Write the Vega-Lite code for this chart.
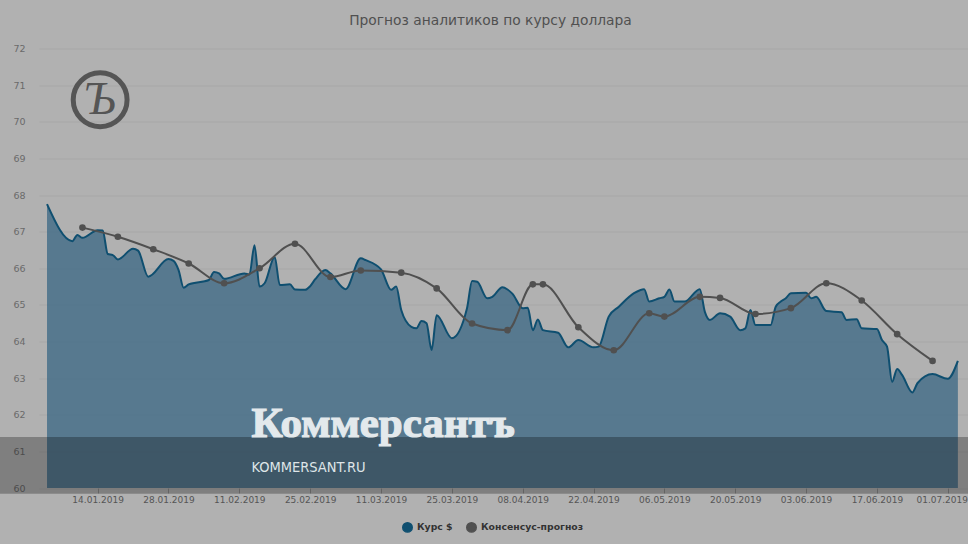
{"$schema":"https://vega.github.io/schema/vega-lite/v6.json","width":929,"height":439.5,"autosize":{"type":"none"},"padding":{"left":39,"top":48.5,"right":0,"bottom":56},"background":"#b1b1b1","title":{"text":"Прогноз аналитиков по курсу доллара","anchor":"middle","dx":-13,"offset":16,"font":"DejaVu Sans","fontSize":13.8,"fontWeight":"normal","color":"#505050"},"config":{"view":{"stroke":null}},
"datasets":{
"rate":[{"date":"2019-01-04","v":67.75},{"date":"2019-01-09","v":66.74},{"date":"2019-01-10","v":66.91},{"date":"2019-01-11","v":66.83},{"date":"2019-01-14","v":67.04},{"date":"2019-01-15","v":67.03},{"date":"2019-01-16","v":66.39},{"date":"2019-01-17","v":66.36},{"date":"2019-01-18","v":66.24},{"date":"2019-01-21","v":66.53},{"date":"2019-01-22","v":66.48},{"date":"2019-01-24","v":65.77},{"date":"2019-01-28","v":66.25},{"date":"2019-01-29","v":66.2},{"date":"2019-01-30","v":65.95},{"date":"2019-01-31","v":65.47},{"date":"2019-02-01","v":65.56},{"date":"2019-02-05","v":65.68},{"date":"2019-02-06","v":65.9},{"date":"2019-02-07","v":65.86},{"date":"2019-02-08","v":65.71},{"date":"2019-02-12","v":65.86},{"date":"2019-02-13","v":65.83},{"date":"2019-02-14","v":66.63},{"date":"2019-02-15","v":65.5},{"date":"2019-02-16","v":65.59},{"date":"2019-02-18","v":66.31},{"date":"2019-02-19","v":65.54},{"date":"2019-02-21","v":65.56},{"date":"2019-02-22","v":65.42},{"date":"2019-02-24","v":65.41},{"date":"2019-02-25","v":65.51},{"date":"2019-02-26","v":65.7},{"date":"2019-02-28","v":65.95},{"date":"2019-03-01","v":65.86},{"date":"2019-03-04","v":65.43},{"date":"2019-03-07","v":66.27},{"date":"2019-03-08","v":66.22},{"date":"2019-03-11","v":65.97},{"date":"2019-03-13","v":65.41},{"date":"2019-03-14","v":65.5},{"date":"2019-03-15","v":64.86},{"date":"2019-03-17","v":64.4},{"date":"2019-03-18","v":64.36},{"date":"2019-03-19","v":64.56},{"date":"2019-03-20","v":64.5},{"date":"2019-03-21","v":63.77},{"date":"2019-03-22","v":64.72},{"date":"2019-03-25","v":64.09},{"date":"2019-03-28","v":64.91},{"date":"2019-03-29","v":65.65},{"date":"2019-03-30","v":65.63},{"date":"2019-04-01","v":65.18},{"date":"2019-04-02","v":65.22},{"date":"2019-04-04","v":65.48},{"date":"2019-04-05","v":65.42},{"date":"2019-04-06","v":65.3},{"date":"2019-04-08","v":64.91},{"date":"2019-04-09","v":64.92},{"date":"2019-04-10","v":64.31},{"date":"2019-04-11","v":64.6},{"date":"2019-04-12","v":64.31},{"date":"2019-04-15","v":64.24},{"date":"2019-04-17","v":63.84},{"date":"2019-04-19","v":64.04},{"date":"2019-04-22","v":63.84},{"date":"2019-04-23","v":63.86},{"date":"2019-04-25","v":64.68},{"date":"2019-04-27","v":64.95},{"date":"2019-04-30","v":65.32},{"date":"2019-05-02","v":65.43},{"date":"2019-05-03","v":65.09},{"date":"2019-05-05","v":65.18},{"date":"2019-05-06","v":65.22},{"date":"2019-05-07","v":65.42},{"date":"2019-05-08","v":65.09},{"date":"2019-05-10","v":65.09},{"date":"2019-05-13","v":65.43},{"date":"2019-05-14","v":64.81},{"date":"2019-05-15","v":64.59},{"date":"2019-05-17","v":64.77},{"date":"2019-05-19","v":64.68},{"date":"2019-05-21","v":64.31},{"date":"2019-05-22","v":64.36},{"date":"2019-05-23","v":64.86},{"date":"2019-05-24","v":64.45},{"date":"2019-05-27","v":64.45},{"date":"2019-05-28","v":64.95},{"date":"2019-05-29","v":65.09},{"date":"2019-05-30","v":65.18},{"date":"2019-05-31","v":65.32},{"date":"2019-06-03","v":65.33},{"date":"2019-06-04","v":65.18},{"date":"2019-06-05","v":65.22},{"date":"2019-06-07","v":64.83},{"date":"2019-06-10","v":64.8},{"date":"2019-06-11","v":64.59},{"date":"2019-06-13","v":64.61},{"date":"2019-06-14","v":64.36},{"date":"2019-06-17","v":64.34},{"date":"2019-06-18","v":64.04},{"date":"2019-06-19","v":63.86},{"date":"2019-06-20","v":62.9},{"date":"2019-06-21","v":63.25},{"date":"2019-06-22","v":63.08},{"date":"2019-06-24","v":62.61},{"date":"2019-06-25","v":62.86},{"date":"2019-06-28","v":63.11},{"date":"2019-07-01","v":62.98},{"date":"2019-07-03","v":63.47}],
"consensus":[{"date":"2019-01-11","v":67.11},{"date":"2019-01-18","v":66.86},{"date":"2019-01-25","v":66.52},{"date":"2019-02-01","v":66.13},{"date":"2019-02-08","v":65.59},{"date":"2019-02-15","v":66.0},{"date":"2019-02-22","v":66.67},{"date":"2019-03-01","v":65.76},{"date":"2019-03-07","v":65.94},{"date":"2019-03-15","v":65.88},{"date":"2019-03-22","v":65.45},{"date":"2019-03-29","v":64.49},{"date":"2019-04-05","v":64.31},{"date":"2019-04-10","v":65.56},{"date":"2019-04-12","v":65.56},{"date":"2019-04-19","v":64.39},{"date":"2019-04-26","v":63.76},{"date":"2019-05-03","v":64.77},{"date":"2019-05-06","v":64.68},{"date":"2019-05-13","v":65.22},{"date":"2019-05-17","v":65.19},{"date":"2019-05-24","v":64.75},{"date":"2019-05-31","v":64.91},{"date":"2019-06-07","v":65.59},{"date":"2019-06-14","v":65.12},{"date":"2019-06-21","v":64.2},{"date":"2019-06-28","v":63.47}]},
"data":{"name":"rate"},
"encoding":{"x":{"field":"date","type":"temporal","title":null,"scale":{"type":"utc","domain":["2019-01-02T10:00:00Z","2019-07-05T00:00:00Z"],"nice":false},"axis":{"values":["2019-01-14","2019-01-28","2019-02-11","2019-02-25","2019-03-11","2019-03-25","2019-04-08","2019-04-22","2019-05-06","2019-05-20","2019-06-03","2019-06-17","2019-07-01"],"format":"%d.%m.%Y","grid":false,"domain":false,"tickColor":"#8a8a8a","tickSize":5,"labelFont":"DejaVu Sans","labelFontSize":9,"labelColor":"#555555","labelPadding":2,"labelOverlap":false,"labelFlush":false,"labelOffset":{"condition":{"test":"datum.label === '01.07.2019'","value":-6},"value":0}}},"y":{"field":"v","type":"quantitative","title":null,"scale":{"domain":[60,72],"nice":false,"zero":false},"axis":{"values":[60,61,62,63,64,65,66,67,68,69,70,71,72],"domain":false,"ticks":false,"gridColor":"#a7a7a7","gridWidth":1,"labelFont":"DejaVu Sans","labelFontSize":9.5,"labelColor":"#6a6a6a","labelPadding":14}}},
"layer":[
{"mark":{"type":"area","interpolate":"monotone","fill":"#356482","opacity":0.72},"encoding":{"y2":{"datum":60}}},
{"mark":{"type":"line","interpolate":"monotone","strokeWidth":2},"encoding":{"color":{"datum":"Курс $","scale":{"domain":["Курс $","Консенсус-прогноз"],"range":["#0f4f70","#505050"]},"legend":{"title":null,"orient":"none","legendX":363,"legendY":473,"direction":"horizontal","columns":2,"symbolType":"circle","symbolSize":90,"labelFont":"DejaVu Sans","labelFontSize":9.3,"labelFontWeight":"bold","labelColor":"#333333","encode":{"symbols":{"update":{"fill":{"scale":"color","field":"value"},"fillOpacity":{"value":1}}}}}}}},
{"data":{"name":"consensus"},"mark":{"type":"line","interpolate":"monotone","strokeWidth":2},"encoding":{"color":{"datum":"Консенсус-прогноз"}}},
{"data":{"name":"consensus"},"mark":{"type":"point","filled":true,"size":44,"opacity":1},"encoding":{"color":{"datum":"Консенсус-прогноз"}}},
{"data":{"values":[{"from":"2018-12-20","to":"2019-07-10","low":59.84,"high":61.39}]},"mark":{"type":"rect","color":"#000000","opacity":0.28},"encoding":{"x":{"field":"from","type":"temporal"},"x2":{"field":"to"},"y":{"field":"low","type":"quantitative"},"y2":{"field":"high"}}},
{"data":{"values":[{"date":"2019-02-13","v":61.39,"t":"Коммерсантъ"}]},"mark":{"type":"text","align":"left","baseline":"alphabetic","dx":2,"font":"Liberation Serif","fontWeight":"bold","fontSize":43,"color":"#e3e9ec","stroke":"#e3e9ec","strokeWidth":1.2},"encoding":{"text":{"field":"t"}}},
{"data":{"values":[{"date":"2019-02-13","v":60.44,"t":"KOMMERSANT.RU"}]},"mark":{"type":"text","align":"left","baseline":"alphabetic","dx":2,"font":"DejaVu Sans Condensed, Liberation Sans, sans-serif","fontWeight":"normal","fontSize":14.5,"color":"#dfe5e8"},"encoding":{"text":{"field":"t"}}},
{"data":{"values":[{"date":"2019-01-14T12:00:00Z","v":70.6}]},"mark":{"type":"point","shape":"circle","filled":false,"size":2900,"stroke":"#555555","strokeWidth":5,"opacity":1}},
{"data":{"values":[{"date":"2019-01-14T12:00:00Z","v":70.6,"t":"Ъ"}]},"mark":{"type":"text","font":"Liberation Serif","fontStyle":"italic","fontSize":46,"color":"#555555","align":"center","baseline":"middle"},"encoding":{"text":{"field":"t"}}}
]}
